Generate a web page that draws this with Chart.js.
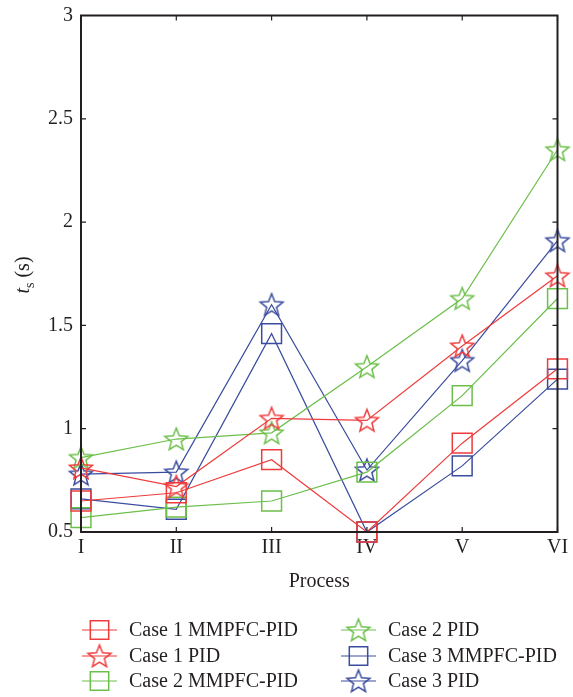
<!DOCTYPE html>
<html>
<head>
<meta charset="utf-8">
<script src="https://cdn.jsdelivr.net/npm/chart.js@4/dist/chart.umd.min.js"></script>
<style>
  html, body { margin: 0; padding: 0; background: #fff; }
  #wrap { width: 573px; height: 697px; }
</style>
</head>
<body>
<div id="wrap"><canvas id="ts-chart" width="573" height="697"></canvas></div>
<script>
'use strict';

// Settling time per process stage
const processes  = ['I', 'II', 'III', 'IV', 'V', 'VI'];
const case1Mmpfc = [0.65, 0.69, 0.85, 0.50, 0.93, 1.29];
const case1Pid   = [0.81, 0.72, 1.05, 1.04, 1.40, 1.74];
const case2Mmpfc = [0.57, 0.62, 0.65, 0.79, 1.16, 1.63];
const case2Pid   = [0.86, 0.95, 0.98, 1.30, 1.63, 2.35];
const case3Mmpfc = [0.66, 0.61, 1.46, 0.50, 0.82, 1.24];
const case3Pid   = [0.78, 0.79, 1.60, 0.80, 1.33, 1.91];
const yTicks     = [0.5, 1, 1.5, 2, 2.5, 3];

const RED   = '#ef3b3b';
const GREEN = '#6cbf4a';
const BLUE  = '#3a4c9e';
const INK   = '#231f20';
const SERIF = '"Liberation Serif", "DejaVu Serif", serif';

// five-pointed outline star used as a point style
function makeStar(color) {
    const size = 28;
    const c = document.createElement('canvas');
    c.width = size; c.height = size;
    const g = c.getContext('2d');
    const cx = size / 2, cy = size / 2 + 1, ro = 12, ri = 5.2;
    g.beginPath();
    for (let i = 0; i < 10; i++) {
        const r = i % 2 ? ri : ro;
        const a = -Math.PI / 2 + i * Math.PI / 5;
        const px = cx + r * Math.cos(a), py = cy + r * Math.sin(a);
        i ? g.lineTo(px, py) : g.moveTo(px, py);
    }
    g.closePath();
    g.strokeStyle = color;
    g.lineWidth = 1.5;
    g.stroke();
    return c;
}

function series(label, data, color, marker) {
    const star = marker === 'star';
    return {
        label,
        data,
        borderColor: color,
        borderWidth: 1.2,
        backgroundColor: 'rgba(0,0,0,0)',
        pointStyle: star ? makeStar(color) : 'rect',
        pointRadius: star ? 12 : 14,
        pointBorderWidth: 1.5,
        pointBorderColor: color,
        pointBackgroundColor: 'rgba(0,0,0,0)',
        tension: 0,
        clip: false,
    };
}

const datasets = [
    series('Case 1 MMPFC-PID', case1Mmpfc, RED, 'rect'),
    series('Case 1 PID',       case1Pid,   RED, 'star'),
    series('Case 2 MMPFC-PID', case2Mmpfc, GREEN, 'rect'),
    series('Case 2 PID',       case2Pid,   GREEN, 'star'),
    series('Case 3 MMPFC-PID', case3Mmpfc, BLUE, 'rect'),
    series('Case 3 PID',       case3Pid,   BLUE, 'star'),
];

// box frame with inward ticks on all four sides
const framePlugin = {
    id: 'frame',
    afterDatasetsDraw(chart) {
        const { ctx, chartArea: a, scales: { x, y } } = chart;
        const len = 5;
        ctx.save();
        ctx.strokeStyle = INK;
        ctx.lineWidth = 2;
        ctx.strokeRect(a.left, a.top, a.right - a.left, a.bottom - a.top);
        ctx.lineWidth = 1.2;
        ctx.beginPath();
        yTicks.forEach(v => {
            const py = y.getPixelForValue(v);
            ctx.moveTo(a.left, py);  ctx.lineTo(a.left + len, py);
            ctx.moveTo(a.right, py); ctx.lineTo(a.right - len, py);
        });
        processes.forEach((_, i) => {
            const px = x.getPixelForValue(i);
            ctx.moveTo(px, a.top);    ctx.lineTo(px, a.top + len);
            ctx.moveTo(px, a.bottom); ctx.lineTo(px, a.bottom - len);
        });
        ctx.stroke();
        ctx.restore();
    },
};

// y title with italic t and subscript s
const yTitlePlugin = {
    id: 'yTitle',
    afterDraw(chart) {
        const { ctx } = chart;
        ctx.save();
        ctx.translate(29, 275);
        ctx.rotate(-Math.PI / 2);
        ctx.fillStyle = INK;
        ctx.textBaseline = 'alphabetic';
        ctx.font = 'italic 20px ' + SERIF;
        const tW = ctx.measureText('t').width;
        const rest = ' (s)';
        ctx.font = '20px ' + SERIF;
        const rW = ctx.measureText(rest).width;
        ctx.font = '14px ' + SERIF;
        const sW = ctx.measureText('s').width;
        let px = -(tW + sW + rW) / 2;
        ctx.font = 'italic 20px ' + SERIF;
        ctx.fillText('t', px, 0);
        px += tW;
        ctx.font = '14px ' + SERIF;
        ctx.fillText('s', px, 5);
        px += sW;
        ctx.font = '20px ' + SERIF;
        ctx.fillText(rest, px, 0);
        ctx.restore();
    },
};

// two-column legend with the line running through each marker
const legendPlugin = {
    id: 'lineLegend',
    afterDraw(chart) {
        const { ctx } = chart;
        const cols = [{ x0: 82, text: 129 }, { x0: 341, text: 388 }];
        const rows = [630, 656, 681];
        ctx.save();
        ctx.font = '20px ' + SERIF;
        ctx.textBaseline = 'middle';
        chart.data.datasets.forEach((ds, i) => {
            const col = cols[Math.floor(i / 3)];
            const yy = rows[i % 3];
            ctx.strokeStyle = ds.borderColor;
            ctx.lineWidth = 1.2;
            ctx.beginPath();
            ctx.moveTo(col.x0, yy);
            ctx.lineTo(col.x0 + 35, yy);
            ctx.stroke();
            ctx.lineWidth = ds.pointBorderWidth;
            ctx.fillStyle = 'rgba(0,0,0,0)';
            Chart.helpers.drawPoint(ctx, {
                pointStyle: ds.pointStyle,
                radius: ds.pointStyle === 'rect' ? 13 : 11,
                rotation: 0,
                borderWidth: ds.pointBorderWidth,
            }, col.x0 + 17.5, yy);
            ctx.fillStyle = INK;
            ctx.fillText(ds.label, col.text, yy + 1);
        });
        ctx.restore();
    },
};

new Chart(document.getElementById('ts-chart').getContext('2d'), {
    type: 'line',
    data: { labels: processes, datasets },
    options: {
        responsive: false,
        animation: false,
        layout: { padding: { left: 0, right: 12, top: 14, bottom: 0 } },
        plugins: {
            legend: { display: false },
            tooltip: { enabled: false },
        },
        scales: {
            x: {
                type: 'category',
                offset: false,
                grid: { display: false, drawTicks: false },
                border: { display: false },
                ticks: { color: INK, font: { family: SERIF, size: 20 }, padding: 4, maxRotation: 0 },
                title: {
                    display: true,
                    text: 'Process',
                    color: INK,
                    font: { family: SERIF, size: 20 },
                    padding: { top: 0, bottom: 103 },
                },
                afterFit(scale) {
                    scale.height = 165;
                    scale.paddingLeft = 0;
                    scale.paddingRight = 0;
                },
            },
            y: {
                min: 0.5,
                max: 3,
                grid: { display: false, drawTicks: false },
                border: { display: false },
                ticks: {
                    stepSize: 0.5,
                    color: INK,
                    font: { family: SERIF, size: 20 },
                    padding: 8,
                    callback: v => String(v),
                },
                afterFit(scale) {
                    scale.width = 81;
                    scale.paddingTop = 0;
                    scale.paddingBottom = 0;
                },
            },
        },
    },
    plugins: [framePlugin, yTitlePlugin, legendPlugin],
});
</script>
</body>
</html>
